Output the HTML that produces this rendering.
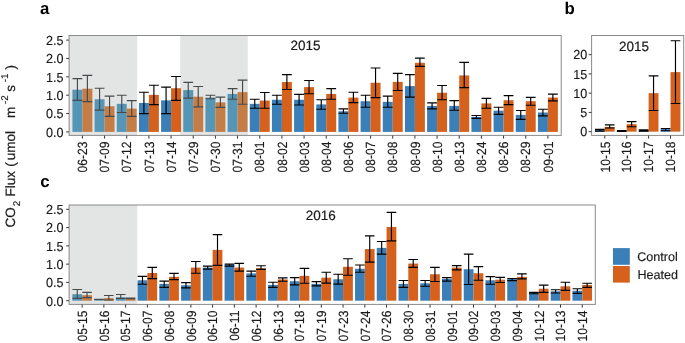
<!DOCTYPE html>
<html><head><meta charset="utf-8"><title>CO2 flux</title>
<style>
html,body{margin:0;padding:0;background:#fff;}
svg{display:block;will-change:transform;}
text{font-family:"Liberation Sans",sans-serif;fill:#1a1a1a;text-rendering:geometricPrecision;}
.t12{font-size:12.6px;stroke:#1a1a1a;stroke-width:.15px;}
.t13{font-size:13.5px;stroke:#1a1a1a;stroke-width:.2px;}
.t9{font-size:9.8px;stroke:#1a1a1a;stroke-width:.15px;}
.tb{font-size:16.8px;font-weight:bold;fill:#000;}
</style></head><body>
<svg width="685" height="343" viewBox="0 0 685 343">
<rect width="685" height="343" fill="#fff"/>
<rect x="69.1" y="35.5" width="492.1" height="99.9" fill="#fff"/>
<rect x="69.1" y="35.5" width="68.15" height="99.9" fill="#e3e5e4"/>
<rect x="180.2" y="35.5" width="67.6" height="99.9" fill="#e3e5e4"/>
<rect x="72.42" y="89.7" width="9.98" height="42.2" fill="#5595b6"/>
<rect x="82.4" y="88.71" width="9.98" height="43.19" fill="#c57d46"/>
<path d="M72.52 78.68H82.3M77.41 78.68V100.36M72.52 100.36H82.3" stroke="#454a4d" stroke-width="1.15" fill="none"/>
<path d="M82.5 75.37H92.27M87.39 75.37V101.61M82.5 101.61H92.27" stroke="#454a4d" stroke-width="1.15" fill="none"/>
<rect x="94.59" y="99.26" width="9.98" height="32.64" fill="#5595b6"/>
<rect x="104.57" y="106.24" width="9.98" height="25.66" fill="#c57d46"/>
<path d="M94.69 88.23H104.47M99.58 88.23V110.06M94.69 110.06H104.47" stroke="#454a4d" stroke-width="1.15" fill="none"/>
<path d="M104.67 96.17H114.44M109.55 96.17V116.31M104.67 116.31H114.44" stroke="#454a4d" stroke-width="1.15" fill="none"/>
<rect x="116.76" y="103.82" width="9.98" height="28.08" fill="#5595b6"/>
<rect x="126.73" y="108.63" width="9.98" height="23.27" fill="#c57d46"/>
<path d="M116.86 95.22H126.63M121.75 95.22V112.49M116.86 112.49H126.63" stroke="#454a4d" stroke-width="1.15" fill="none"/>
<path d="M126.83 100.58H136.61M131.72 100.58V116.31M126.83 116.31H136.61" stroke="#454a4d" stroke-width="1.15" fill="none"/>
<rect x="138.92" y="102.93" width="9.98" height="28.97" fill="#3b7fb8"/>
<rect x="148.9" y="94.85" width="9.98" height="37.05" fill="#d5611c"/>
<path d="M139.02 92.28H148.8M143.91 92.28V113.59M139.02 113.59H148.8" stroke="#000" stroke-width="1.15" fill="none"/>
<path d="M149 85.29H158.77M153.89 85.29V104.63M149 104.63H158.77" stroke="#000" stroke-width="1.15" fill="none"/>
<rect x="161.09" y="100.36" width="9.98" height="31.54" fill="#3b7fb8"/>
<rect x="171.07" y="88.23" width="9.98" height="43.67" fill="#d5611c"/>
<path d="M161.19 87.13H170.97M166.08 87.13V113.59M161.19 113.59H170.97" stroke="#000" stroke-width="1.15" fill="none"/>
<path d="M171.17 76.47H180.94M176.05 76.47V100.36M171.17 100.36H180.94" stroke="#000" stroke-width="1.15" fill="none"/>
<rect x="183.26" y="90.07" width="9.98" height="41.83" fill="#5595b6"/>
<rect x="193.23" y="96.69" width="9.98" height="35.21" fill="#c57d46"/>
<path d="M183.36 82.35H193.13M188.25 82.35V98.16M183.36 98.16H193.13" stroke="#454a4d" stroke-width="1.15" fill="none"/>
<path d="M193.33 86.51H203.11M198.22 86.51V106.83M193.33 106.83H203.11" stroke="#454a4d" stroke-width="1.15" fill="none"/>
<rect x="205.42" y="97.57" width="9.98" height="34.33" fill="#5595b6"/>
<rect x="215.4" y="102.38" width="9.98" height="29.52" fill="#c57d46"/>
<path d="M205.52 95.22H215.3M210.41 95.22V98.78M205.52 98.78H215.3" stroke="#454a4d" stroke-width="1.15" fill="none"/>
<path d="M215.5 97.06H225.27M220.39 97.06V107.34M215.5 107.34H225.27" stroke="#454a4d" stroke-width="1.15" fill="none"/>
<rect x="227.59" y="93.93" width="9.98" height="37.97" fill="#5595b6"/>
<rect x="237.57" y="92.13" width="9.98" height="39.77" fill="#c57d46"/>
<path d="M227.69 88.6H237.47M232.58 88.6V99.26M227.69 99.26H237.47" stroke="#454a4d" stroke-width="1.15" fill="none"/>
<path d="M237.67 80.15H247.44M242.55 80.15V104.22M237.67 104.22H247.44" stroke="#454a4d" stroke-width="1.15" fill="none"/>
<rect x="249.76" y="103.82" width="9.98" height="28.08" fill="#3b7fb8"/>
<rect x="259.73" y="100.58" width="9.98" height="31.32" fill="#d5611c"/>
<path d="M249.86 99.26H259.63M254.75 99.26V108.23M249.86 108.23H259.63" stroke="#000" stroke-width="1.15" fill="none"/>
<path d="M259.83 92.53H269.61M264.72 92.53V108.23M259.83 108.23H269.61" stroke="#000" stroke-width="1.15" fill="none"/>
<rect x="271.92" y="99.77" width="9.98" height="32.13" fill="#3b7fb8"/>
<rect x="281.9" y="82.06" width="9.98" height="49.84" fill="#d5611c"/>
<path d="M272.02 95.22H281.8M276.91 95.22V104.22M272.02 104.22H281.8" stroke="#000" stroke-width="1.15" fill="none"/>
<path d="M282 74.64H291.77M286.89 74.64V89.52M282 89.52H291.77" stroke="#000" stroke-width="1.15" fill="none"/>
<rect x="294.09" y="99.77" width="9.98" height="32.13" fill="#3b7fb8"/>
<rect x="304.07" y="87.13" width="9.98" height="44.77" fill="#d5611c"/>
<path d="M294.19 94.34H303.97M299.08 94.34V105.03M294.19 105.03H303.97" stroke="#000" stroke-width="1.15" fill="none"/>
<path d="M304.17 80.52H313.94M309.05 80.52V93.75M304.17 93.75H313.94" stroke="#000" stroke-width="1.15" fill="none"/>
<rect x="316.26" y="104.41" width="9.98" height="27.5" fill="#3b7fb8"/>
<rect x="326.23" y="93.93" width="9.98" height="37.97" fill="#d5611c"/>
<path d="M316.36 99.77H326.13M321.25 99.77V109.26M316.36 109.26H326.13" stroke="#000" stroke-width="1.15" fill="none"/>
<path d="M326.33 88.6H336.11M331.22 88.6V99.26M326.33 99.26H336.11" stroke="#000" stroke-width="1.15" fill="none"/>
<rect x="338.42" y="111.28" width="9.98" height="20.62" fill="#3b7fb8"/>
<rect x="348.4" y="97.57" width="9.98" height="34.33" fill="#d5611c"/>
<path d="M338.52 108.81H348.3M343.41 108.81V113.22M338.52 113.22H348.3" stroke="#000" stroke-width="1.15" fill="none"/>
<path d="M348.5 92.28H358.27M353.39 92.28V102.57M348.5 102.57H358.27" stroke="#000" stroke-width="1.15" fill="none"/>
<rect x="360.59" y="101.21" width="9.98" height="30.69" fill="#3b7fb8"/>
<rect x="370.57" y="82.72" width="9.98" height="49.18" fill="#d5611c"/>
<path d="M360.69 95.22H370.47M365.58 95.22V107.23M360.69 107.23H370.47" stroke="#000" stroke-width="1.15" fill="none"/>
<path d="M370.67 68.02H380.44M375.55 68.02V97.57M370.67 97.57H380.44" stroke="#000" stroke-width="1.15" fill="none"/>
<rect x="382.76" y="101.83" width="9.98" height="30.07" fill="#3b7fb8"/>
<rect x="392.73" y="81.88" width="9.98" height="50.02" fill="#d5611c"/>
<path d="M382.86 96.17H392.63M387.75 96.17V107.23M382.86 107.23H392.63" stroke="#000" stroke-width="1.15" fill="none"/>
<path d="M392.83 73.31H402.61M397.72 73.31V90.51M392.83 90.51H402.61" stroke="#000" stroke-width="1.15" fill="none"/>
<rect x="404.92" y="86.1" width="9.98" height="45.8" fill="#3b7fb8"/>
<rect x="414.9" y="62.77" width="9.98" height="69.13" fill="#d5611c"/>
<path d="M405.02 74.64H414.8M409.91 74.64V97.17M405.02 97.17H414.8" stroke="#000" stroke-width="1.15" fill="none"/>
<path d="M415 58.1H424.77M419.89 58.1V66.41M415 66.41H424.77" stroke="#000" stroke-width="1.15" fill="none"/>
<rect x="427.09" y="105.88" width="9.98" height="26.03" fill="#3b7fb8"/>
<rect x="437.07" y="92.72" width="9.98" height="39.18" fill="#d5611c"/>
<path d="M427.19 102.93H436.97M432.08 102.93V108.81M427.19 108.81H436.97" stroke="#000" stroke-width="1.15" fill="none"/>
<path d="M437.17 85.48H446.94M442.05 85.48V99.77M437.17 99.77H446.94" stroke="#000" stroke-width="1.15" fill="none"/>
<rect x="449.26" y="105.88" width="9.98" height="26.03" fill="#3b7fb8"/>
<rect x="459.23" y="75.41" width="9.98" height="56.49" fill="#d5611c"/>
<path d="M449.36 100.58H459.13M454.25 100.58V110.28M449.36 110.28H459.13" stroke="#000" stroke-width="1.15" fill="none"/>
<path d="M459.33 62.33H469.11M464.22 62.33V87.68M459.33 87.68H469.11" stroke="#000" stroke-width="1.15" fill="none"/>
<rect x="471.42" y="116.9" width="9.98" height="15" fill="#3b7fb8"/>
<rect x="481.4" y="103.41" width="9.98" height="28.49" fill="#d5611c"/>
<path d="M471.52 115.5H481.3M476.41 115.5V118.37M471.52 118.37H481.3" stroke="#000" stroke-width="1.15" fill="none"/>
<path d="M481.5 98.38H491.27M486.39 98.38V108.23M481.5 108.23H491.27" stroke="#000" stroke-width="1.15" fill="none"/>
<rect x="493.59" y="110.65" width="9.98" height="21.25" fill="#3b7fb8"/>
<rect x="503.57" y="100.18" width="9.98" height="31.72" fill="#d5611c"/>
<path d="M493.69 107.23H503.47M498.58 107.23V114.33M493.69 114.33H503.47" stroke="#000" stroke-width="1.15" fill="none"/>
<path d="M503.67 95.58H513.44M508.55 95.58V104.63M503.67 104.63H513.44" stroke="#000" stroke-width="1.15" fill="none"/>
<rect x="515.76" y="114.88" width="9.98" height="17.02" fill="#3b7fb8"/>
<rect x="525.73" y="101.21" width="9.98" height="30.69" fill="#d5611c"/>
<path d="M515.86 110.47H525.63M520.75 110.47V119.33M515.86 119.33H525.63" stroke="#000" stroke-width="1.15" fill="none"/>
<path d="M525.83 97.42H535.61M530.72 97.42V105.21M525.83 105.21H535.61" stroke="#000" stroke-width="1.15" fill="none"/>
<rect x="537.92" y="112.49" width="9.98" height="19.41" fill="#3b7fb8"/>
<rect x="547.9" y="97.57" width="9.98" height="34.33" fill="#d5611c"/>
<path d="M538.02 109.26H547.8M542.91 109.26V115.91M538.02 115.91H547.8" stroke="#000" stroke-width="1.15" fill="none"/>
<path d="M548 94.11H557.77M552.89 94.11V100.8M548 100.8H557.77" stroke="#000" stroke-width="1.15" fill="none"/>
<rect x="69.1" y="35.5" width="492.1" height="99.9" fill="none" stroke="#8a8a8a" stroke-width="1"/>
<path d="M66.2 131.9H68.9" stroke="#333" stroke-width="1"/>
<text transform="translate(63.6 136.7) scale(1 1.04)" text-anchor="end" class="t12">0.0</text>
<path d="M66.2 113.54H68.9" stroke="#333" stroke-width="1"/>
<text transform="translate(63.6 118.34) scale(1 1.04)" text-anchor="end" class="t12">0.5</text>
<path d="M66.2 95.18H68.9" stroke="#333" stroke-width="1"/>
<text transform="translate(63.6 99.98) scale(1 1.04)" text-anchor="end" class="t12">1.0</text>
<path d="M66.2 76.82H68.9" stroke="#333" stroke-width="1"/>
<text transform="translate(63.6 81.62) scale(1 1.04)" text-anchor="end" class="t12">1.5</text>
<path d="M66.2 58.46H68.9" stroke="#333" stroke-width="1"/>
<text transform="translate(63.6 63.26) scale(1 1.04)" text-anchor="end" class="t12">2.0</text>
<path d="M66.2 40.1H68.9" stroke="#333" stroke-width="1"/>
<text transform="translate(63.6 44.9) scale(1 1.04)" text-anchor="end" class="t12">2.5</text>
<path d="M82.4 135.6V138.6" stroke="#333" stroke-width="1"/>
<text transform="translate(87.15 141.6) rotate(-90) scale(.96 1.06)" text-anchor="end" class="t12">06-23</text>
<path d="M104.57 135.6V138.6" stroke="#333" stroke-width="1"/>
<text transform="translate(109.32 141.6) rotate(-90) scale(.96 1.06)" text-anchor="end" class="t12">07-09</text>
<path d="M126.73 135.6V138.6" stroke="#333" stroke-width="1"/>
<text transform="translate(131.48 141.6) rotate(-90) scale(.96 1.06)" text-anchor="end" class="t12">07-12</text>
<path d="M148.9 135.6V138.6" stroke="#333" stroke-width="1"/>
<text transform="translate(153.65 141.6) rotate(-90) scale(.96 1.06)" text-anchor="end" class="t12">07-13</text>
<path d="M171.07 135.6V138.6" stroke="#333" stroke-width="1"/>
<text transform="translate(175.82 141.6) rotate(-90) scale(.96 1.06)" text-anchor="end" class="t12">07-14</text>
<path d="M193.23 135.6V138.6" stroke="#333" stroke-width="1"/>
<text transform="translate(197.98 141.6) rotate(-90) scale(.96 1.06)" text-anchor="end" class="t12">07-29</text>
<path d="M215.4 135.6V138.6" stroke="#333" stroke-width="1"/>
<text transform="translate(220.15 141.6) rotate(-90) scale(.96 1.06)" text-anchor="end" class="t12">07-30</text>
<path d="M237.57 135.6V138.6" stroke="#333" stroke-width="1"/>
<text transform="translate(242.32 141.6) rotate(-90) scale(.96 1.06)" text-anchor="end" class="t12">07-31</text>
<path d="M259.73 135.6V138.6" stroke="#333" stroke-width="1"/>
<text transform="translate(264.48 141.6) rotate(-90) scale(.96 1.06)" text-anchor="end" class="t12">08-01</text>
<path d="M281.9 135.6V138.6" stroke="#333" stroke-width="1"/>
<text transform="translate(286.65 141.6) rotate(-90) scale(.96 1.06)" text-anchor="end" class="t12">08-02</text>
<path d="M304.07 135.6V138.6" stroke="#333" stroke-width="1"/>
<text transform="translate(308.82 141.6) rotate(-90) scale(.96 1.06)" text-anchor="end" class="t12">08-03</text>
<path d="M326.23 135.6V138.6" stroke="#333" stroke-width="1"/>
<text transform="translate(330.98 141.6) rotate(-90) scale(.96 1.06)" text-anchor="end" class="t12">08-04</text>
<path d="M348.4 135.6V138.6" stroke="#333" stroke-width="1"/>
<text transform="translate(353.15 141.6) rotate(-90) scale(.96 1.06)" text-anchor="end" class="t12">08-06</text>
<path d="M370.57 135.6V138.6" stroke="#333" stroke-width="1"/>
<text transform="translate(375.32 141.6) rotate(-90) scale(.96 1.06)" text-anchor="end" class="t12">08-07</text>
<path d="M392.73 135.6V138.6" stroke="#333" stroke-width="1"/>
<text transform="translate(397.48 141.6) rotate(-90) scale(.96 1.06)" text-anchor="end" class="t12">08-08</text>
<path d="M414.9 135.6V138.6" stroke="#333" stroke-width="1"/>
<text transform="translate(419.65 141.6) rotate(-90) scale(.96 1.06)" text-anchor="end" class="t12">08-09</text>
<path d="M437.07 135.6V138.6" stroke="#333" stroke-width="1"/>
<text transform="translate(441.82 141.6) rotate(-90) scale(.96 1.06)" text-anchor="end" class="t12">08-10</text>
<path d="M459.23 135.6V138.6" stroke="#333" stroke-width="1"/>
<text transform="translate(463.98 141.6) rotate(-90) scale(.96 1.06)" text-anchor="end" class="t12">08-13</text>
<path d="M481.4 135.6V138.6" stroke="#333" stroke-width="1"/>
<text transform="translate(486.15 141.6) rotate(-90) scale(.96 1.06)" text-anchor="end" class="t12">08-24</text>
<path d="M503.57 135.6V138.6" stroke="#333" stroke-width="1"/>
<text transform="translate(508.32 141.6) rotate(-90) scale(.96 1.06)" text-anchor="end" class="t12">08-26</text>
<path d="M525.73 135.6V138.6" stroke="#333" stroke-width="1"/>
<text transform="translate(530.48 141.6) rotate(-90) scale(.96 1.06)" text-anchor="end" class="t12">08-29</text>
<path d="M547.9 135.6V138.6" stroke="#333" stroke-width="1"/>
<text transform="translate(552.65 141.6) rotate(-90) scale(.96 1.06)" text-anchor="end" class="t12">09-01</text>
<text x="305.4" y="50.4" text-anchor="middle" class="t13">2015</text>
<rect x="591.6" y="35.5" width="92.1" height="99.9" fill="#fff"/>
<rect x="594.89" y="129.72" width="9.87" height="1.93" fill="#3b7fb8"/>
<rect x="604.76" y="126.91" width="9.87" height="4.74" fill="#d5611c"/>
<path d="M594.99 129.38H604.66M599.82 129.38V131.13M594.99 131.13H604.66" stroke="#000" stroke-width="1.15" fill="none"/>
<path d="M604.86 124.84H614.52M609.69 124.84V127.97M604.86 127.97H614.52" stroke="#000" stroke-width="1.15" fill="none"/>
<rect x="616.82" y="130.96" width="9.87" height="0.69" fill="#3b7fb8"/>
<rect x="626.69" y="124.12" width="9.87" height="7.53" fill="#d5611c"/>
<path d="M616.92 130.61H626.59M621.75 130.61V131.3M616.92 131.3H626.59" stroke="#000" stroke-width="1.15" fill="none"/>
<path d="M626.79 121.68H636.45M631.62 121.68V126.76M626.79 126.76H636.45" stroke="#000" stroke-width="1.15" fill="none"/>
<rect x="638.75" y="130.26" width="9.87" height="1.39" fill="#3b7fb8"/>
<rect x="648.61" y="93.15" width="9.87" height="38.5" fill="#d5611c"/>
<path d="M638.85 129.92H648.51M643.68 129.92V131.11M638.85 131.11H648.51" stroke="#000" stroke-width="1.15" fill="none"/>
<path d="M648.71 75.83H658.38M653.55 75.83V110.48M648.71 110.48H658.38" stroke="#000" stroke-width="1.15" fill="none"/>
<rect x="660.68" y="129.03" width="9.87" height="2.62" fill="#3b7fb8"/>
<rect x="670.54" y="72.13" width="9.87" height="59.52" fill="#d5611c"/>
<path d="M660.78 128.49H670.44M665.61 128.49V130.76M660.78 130.76H670.44" stroke="#000" stroke-width="1.15" fill="none"/>
<path d="M670.64 40.79H680.31M675.48 40.79V103.47M670.64 103.47H680.31" stroke="#000" stroke-width="1.15" fill="none"/>
<rect x="591.6" y="35.5" width="92.1" height="99.9" fill="none" stroke="#8a8a8a" stroke-width="1"/>
<path d="M588.7 131.65H591.4" stroke="#333" stroke-width="1"/>
<text transform="translate(587.3 136.45) scale(1 1.04)" text-anchor="end" class="t12">0</text>
<path d="M588.7 112.4H591.4" stroke="#333" stroke-width="1"/>
<text transform="translate(587.3 117.2) scale(1 1.04)" text-anchor="end" class="t12">5</text>
<path d="M588.7 93.15H591.4" stroke="#333" stroke-width="1"/>
<text transform="translate(587.3 97.95) scale(1 1.04)" text-anchor="end" class="t12">10</text>
<path d="M588.7 73.9H591.4" stroke="#333" stroke-width="1"/>
<text transform="translate(587.3 78.7) scale(1 1.04)" text-anchor="end" class="t12">15</text>
<path d="M588.7 54.65H591.4" stroke="#333" stroke-width="1"/>
<text transform="translate(587.3 59.45) scale(1 1.04)" text-anchor="end" class="t12">20</text>
<path d="M604.76 135.6V138.6" stroke="#333" stroke-width="1"/>
<text transform="translate(609.51 141.6) rotate(-90) scale(.96 1.06)" text-anchor="end" class="t12">10-15</text>
<path d="M626.69 135.6V138.6" stroke="#333" stroke-width="1"/>
<text transform="translate(631.44 141.6) rotate(-90) scale(.96 1.06)" text-anchor="end" class="t12">10-16</text>
<path d="M648.61 135.6V138.6" stroke="#333" stroke-width="1"/>
<text transform="translate(653.36 141.6) rotate(-90) scale(.96 1.06)" text-anchor="end" class="t12">10-17</text>
<path d="M670.54 135.6V138.6" stroke="#333" stroke-width="1"/>
<text transform="translate(675.29 141.6) rotate(-90) scale(.96 1.06)" text-anchor="end" class="t12">10-18</text>
<text x="634" y="50.5" text-anchor="middle" class="t13">2015</text>
<rect x="69.1" y="205" width="526.2" height="99.4" fill="#fff"/>
<rect x="69.1" y="205" width="68.3" height="99.4" fill="#e3e5e4"/>
<rect x="72.36" y="294.18" width="9.78" height="6.52" fill="#5595b6"/>
<rect x="82.15" y="295.2" width="9.78" height="5.5" fill="#c57d46"/>
<path d="M72.46 289.49H82.05M77.25 289.49V298.41M72.46 298.41H82.05" stroke="#454a4d" stroke-width="1.15" fill="none"/>
<path d="M82.25 292.4H91.83M87.04 292.4V297.68M82.25 297.68H91.83" stroke="#454a4d" stroke-width="1.15" fill="none"/>
<rect x="94.11" y="299.28" width="9.78" height="1.42" fill="#5595b6"/>
<rect x="103.89" y="298.12" width="9.78" height="2.58" fill="#c57d46"/>
<path d="M94.21 299.21H103.79M99 299.21V299.35M94.21 299.35H103.79" stroke="#454a4d" stroke-width="1.15" fill="none"/>
<path d="M103.99 295.5H113.57M108.78 295.5V300.01M103.99 300.01H113.57" stroke="#454a4d" stroke-width="1.15" fill="none"/>
<rect x="115.85" y="297.39" width="9.78" height="3.31" fill="#5595b6"/>
<rect x="125.63" y="298.41" width="9.78" height="2.29" fill="#c57d46"/>
<path d="M115.95 294.48H125.53M120.74 294.48V298.41M115.95 298.41H125.53" stroke="#454a4d" stroke-width="1.15" fill="none"/>
<path d="M125.73 298.19H135.32M130.53 298.19V298.63M125.73 298.63H135.32" stroke="#454a4d" stroke-width="1.15" fill="none"/>
<rect x="137.59" y="280.28" width="9.78" height="20.42" fill="#3b7fb8"/>
<rect x="147.38" y="273" width="9.78" height="27.7" fill="#d5611c"/>
<path d="M137.69 276.42H147.28M142.49 276.42V284.28M137.69 284.28H147.28" stroke="#000" stroke-width="1.15" fill="none"/>
<path d="M147.48 267.39H157.06M152.27 267.39V278.64M147.48 278.64H157.06" stroke="#000" stroke-width="1.15" fill="none"/>
<rect x="159.34" y="283.88" width="9.78" height="16.82" fill="#3b7fb8"/>
<rect x="169.12" y="276.82" width="9.78" height="23.88" fill="#d5611c"/>
<path d="M159.44 281.08H169.02M164.23 281.08V287.31M159.44 287.31H169.02" stroke="#000" stroke-width="1.15" fill="none"/>
<path d="M169.22 273.4H178.81M174.01 273.4V279.66M169.22 279.66H178.81" stroke="#000" stroke-width="1.15" fill="none"/>
<rect x="181.08" y="285.3" width="9.78" height="15.4" fill="#3b7fb8"/>
<rect x="190.87" y="267.58" width="9.78" height="33.12" fill="#d5611c"/>
<path d="M181.18 282.68H190.77M185.97 282.68V287.92M181.18 287.92H190.77" stroke="#000" stroke-width="1.15" fill="none"/>
<path d="M190.97 261.53H200.55M195.76 261.53V273.22M190.97 273.22H200.55" stroke="#000" stroke-width="1.15" fill="none"/>
<rect x="202.82" y="267.58" width="9.78" height="33.12" fill="#3b7fb8"/>
<rect x="212.61" y="249.89" width="9.78" height="50.81" fill="#d5611c"/>
<path d="M202.92 266.18H212.51M207.72 266.18V269.18M202.92 269.18H212.51" stroke="#000" stroke-width="1.15" fill="none"/>
<path d="M212.71 234.6H222.29M217.5 234.6V265.36M212.71 265.36H222.29" stroke="#000" stroke-width="1.15" fill="none"/>
<rect x="224.57" y="264.56" width="9.78" height="36.14" fill="#3b7fb8"/>
<rect x="234.35" y="267.58" width="9.78" height="33.12" fill="#d5611c"/>
<path d="M224.67 264.15H234.25M229.46 264.15V266.18M224.67 266.18H234.25" stroke="#000" stroke-width="1.15" fill="none"/>
<path d="M234.45 263.35H244.04M239.25 263.35V271.18M234.45 271.18H244.04" stroke="#000" stroke-width="1.15" fill="none"/>
<rect x="246.31" y="273.42" width="9.78" height="27.28" fill="#3b7fb8"/>
<rect x="256.1" y="268.2" width="9.78" height="32.5" fill="#d5611c"/>
<path d="M246.41 271.18H256M251.2 271.18V276.24M246.41 276.24H256" stroke="#000" stroke-width="1.15" fill="none"/>
<path d="M256.2 265.77H265.78M260.99 265.77V269.4M256.2 269.4H265.78" stroke="#000" stroke-width="1.15" fill="none"/>
<rect x="268.06" y="284.9" width="9.78" height="15.8" fill="#3b7fb8"/>
<rect x="277.84" y="279.44" width="9.78" height="21.26" fill="#d5611c"/>
<path d="M268.16 282.28H277.74M272.95 282.28V287.31M268.16 287.31H277.74" stroke="#000" stroke-width="1.15" fill="none"/>
<path d="M277.94 277.84H287.53M282.73 277.84V281.26M277.94 281.26H287.53" stroke="#000" stroke-width="1.15" fill="none"/>
<rect x="289.8" y="281.26" width="9.78" height="19.44" fill="#3b7fb8"/>
<rect x="299.58" y="275.84" width="9.78" height="24.86" fill="#d5611c"/>
<path d="M289.9 277.66H299.48M294.69 277.66V284.9M289.9 284.9H299.48" stroke="#000" stroke-width="1.15" fill="none"/>
<path d="M299.68 268.38H309.27M304.48 268.38V283.26M299.68 283.26H309.27" stroke="#000" stroke-width="1.15" fill="none"/>
<rect x="311.54" y="283.88" width="9.78" height="16.82" fill="#3b7fb8"/>
<rect x="321.33" y="277.66" width="9.78" height="23.04" fill="#d5611c"/>
<path d="M311.64 281.66H321.23M316.44 281.66V285.89M311.64 285.89H321.23" stroke="#000" stroke-width="1.15" fill="none"/>
<path d="M321.43 272.2H331.01M326.22 272.2V283.08M321.43 283.08H331.01" stroke="#000" stroke-width="1.15" fill="none"/>
<rect x="333.29" y="279.26" width="9.78" height="21.44" fill="#3b7fb8"/>
<rect x="343.07" y="266.78" width="9.78" height="33.92" fill="#d5611c"/>
<path d="M333.39 274.24H342.97M338.18 274.24V284.08M333.39 284.08H342.97" stroke="#000" stroke-width="1.15" fill="none"/>
<path d="M343.17 258.73H352.76M347.96 258.73V275.22M343.17 275.22H352.76" stroke="#000" stroke-width="1.15" fill="none"/>
<rect x="355.03" y="268.79" width="9.78" height="31.91" fill="#3b7fb8"/>
<rect x="364.82" y="249.09" width="9.78" height="51.61" fill="#d5611c"/>
<path d="M355.13 264.99H364.72M359.92 264.99V272.2M355.13 272.2H364.72" stroke="#000" stroke-width="1.15" fill="none"/>
<path d="M364.92 235.8H374.5M369.71 235.8V262.15M364.92 262.15H374.5" stroke="#000" stroke-width="1.15" fill="none"/>
<rect x="376.77" y="247.88" width="9.78" height="52.82" fill="#3b7fb8"/>
<rect x="386.56" y="226.92" width="9.78" height="73.78" fill="#d5611c"/>
<path d="M376.87 241.51H386.46M381.67 241.51V254.11M376.87 254.11H386.46" stroke="#000" stroke-width="1.15" fill="none"/>
<path d="M386.66 212.32H396.24M391.45 212.32V240.9M386.66 240.9H396.24" stroke="#000" stroke-width="1.15" fill="none"/>
<rect x="398.52" y="283.88" width="9.78" height="16.82" fill="#3b7fb8"/>
<rect x="408.3" y="263.57" width="9.78" height="37.13" fill="#d5611c"/>
<path d="M398.62 280.46H408.2M403.41 280.46V287.31M398.62 287.31H408.2" stroke="#000" stroke-width="1.15" fill="none"/>
<path d="M408.4 259.53H417.99M413.2 259.53V267.39M408.4 267.39H417.99" stroke="#000" stroke-width="1.15" fill="none"/>
<rect x="420.26" y="283.28" width="9.78" height="17.42" fill="#3b7fb8"/>
<rect x="430.05" y="274.24" width="9.78" height="26.46" fill="#d5611c"/>
<path d="M420.36 280.46H429.95M425.15 280.46V286.29M420.36 286.29H429.95" stroke="#000" stroke-width="1.15" fill="none"/>
<path d="M430.15 267.39H439.73M434.94 267.39V281.48M430.15 281.48H439.73" stroke="#000" stroke-width="1.15" fill="none"/>
<rect x="442.01" y="278.86" width="9.78" height="21.84" fill="#3b7fb8"/>
<rect x="451.79" y="267.58" width="9.78" height="33.12" fill="#d5611c"/>
<path d="M442.11 277.66H451.69M446.9 277.66V281.08M442.11 281.08H451.69" stroke="#000" stroke-width="1.15" fill="none"/>
<path d="M451.89 265.57H461.48M456.68 265.57V269.8M451.89 269.8H461.48" stroke="#000" stroke-width="1.15" fill="none"/>
<rect x="463.75" y="269.19" width="9.78" height="31.51" fill="#3b7fb8"/>
<rect x="473.53" y="273.22" width="9.78" height="27.48" fill="#d5611c"/>
<path d="M463.85 254.11H473.43M468.64 254.11V284.48M463.85 284.48H473.43" stroke="#000" stroke-width="1.15" fill="none"/>
<path d="M473.63 266.59H483.22M478.43 266.59V280.28M473.63 280.28H483.22" stroke="#000" stroke-width="1.15" fill="none"/>
<rect x="485.49" y="280.28" width="9.78" height="20.42" fill="#3b7fb8"/>
<rect x="495.28" y="279.66" width="9.78" height="21.04" fill="#d5611c"/>
<path d="M485.59 276.64H495.18M490.39 276.64V284.28M485.59 284.28H495.18" stroke="#000" stroke-width="1.15" fill="none"/>
<path d="M495.38 277.44H504.96M500.17 277.44V282.46M495.38 282.46H504.96" stroke="#000" stroke-width="1.15" fill="none"/>
<rect x="507.24" y="278.86" width="9.78" height="21.84" fill="#3b7fb8"/>
<rect x="517.02" y="276.84" width="9.78" height="23.86" fill="#d5611c"/>
<path d="M507.34 278.46H516.92M512.13 278.46V280.66M507.34 280.66H516.92" stroke="#000" stroke-width="1.15" fill="none"/>
<path d="M517.12 273.82H526.71M521.91 273.82V278.86M517.12 278.86H526.71" stroke="#000" stroke-width="1.15" fill="none"/>
<rect x="528.98" y="292.73" width="9.78" height="7.97" fill="#3b7fb8"/>
<rect x="538.77" y="288.72" width="9.78" height="11.98" fill="#d5611c"/>
<path d="M529.08 292.33H538.67M533.87 292.33V293.75M529.08 293.75H538.67" stroke="#000" stroke-width="1.15" fill="none"/>
<path d="M538.87 285.08H548.45M543.66 285.08V292.33M538.87 292.33H548.45" stroke="#000" stroke-width="1.15" fill="none"/>
<rect x="550.73" y="291.33" width="9.78" height="9.37" fill="#3b7fb8"/>
<rect x="560.51" y="286.29" width="9.78" height="14.41" fill="#d5611c"/>
<path d="M550.83 289.74H560.41M555.62 289.74V293.02M550.83 293.02H560.41" stroke="#000" stroke-width="1.15" fill="none"/>
<path d="M560.61 282.28H570.19M565.4 282.28V290.33M560.61 290.33H570.19" stroke="#000" stroke-width="1.15" fill="none"/>
<rect x="572.47" y="290.73" width="9.78" height="9.97" fill="#3b7fb8"/>
<rect x="582.25" y="284.9" width="9.78" height="15.8" fill="#d5611c"/>
<path d="M572.57 288.72H582.15M577.36 288.72V293.35M572.57 293.35H582.15" stroke="#000" stroke-width="1.15" fill="none"/>
<path d="M582.35 283.28H591.94M587.15 283.28V287.31M582.35 287.31H591.94" stroke="#000" stroke-width="1.15" fill="none"/>
<rect x="69.1" y="205" width="526.2" height="99.4" fill="none" stroke="#8a8a8a" stroke-width="1"/>
<path d="M66.2 300.7H68.9" stroke="#333" stroke-width="1"/>
<text transform="translate(63.6 305.5) scale(1 1.04)" text-anchor="end" class="t12">0.0</text>
<path d="M66.2 282.42H68.9" stroke="#333" stroke-width="1"/>
<text transform="translate(63.6 287.22) scale(1 1.04)" text-anchor="end" class="t12">0.5</text>
<path d="M66.2 264.14H68.9" stroke="#333" stroke-width="1"/>
<text transform="translate(63.6 268.94) scale(1 1.04)" text-anchor="end" class="t12">1.0</text>
<path d="M66.2 245.86H68.9" stroke="#333" stroke-width="1"/>
<text transform="translate(63.6 250.66) scale(1 1.04)" text-anchor="end" class="t12">1.5</text>
<path d="M66.2 227.58H68.9" stroke="#333" stroke-width="1"/>
<text transform="translate(63.6 232.38) scale(1 1.04)" text-anchor="end" class="t12">2.0</text>
<path d="M66.2 209.3H68.9" stroke="#333" stroke-width="1"/>
<text transform="translate(63.6 214.1) scale(1 1.04)" text-anchor="end" class="t12">2.5</text>
<path d="M82.15 304.6V307.6" stroke="#333" stroke-width="1"/>
<text transform="translate(86.9 310.6) rotate(-90) scale(.96 1.06)" text-anchor="end" class="t12">05-15</text>
<path d="M103.89 304.6V307.6" stroke="#333" stroke-width="1"/>
<text transform="translate(108.64 310.6) rotate(-90) scale(.96 1.06)" text-anchor="end" class="t12">05-16</text>
<path d="M125.63 304.6V307.6" stroke="#333" stroke-width="1"/>
<text transform="translate(130.38 310.6) rotate(-90) scale(.96 1.06)" text-anchor="end" class="t12">05-17</text>
<path d="M147.38 304.6V307.6" stroke="#333" stroke-width="1"/>
<text transform="translate(152.13 310.6) rotate(-90) scale(.96 1.06)" text-anchor="end" class="t12">06-07</text>
<path d="M169.12 304.6V307.6" stroke="#333" stroke-width="1"/>
<text transform="translate(173.87 310.6) rotate(-90) scale(.96 1.06)" text-anchor="end" class="t12">06-08</text>
<path d="M190.87 304.6V307.6" stroke="#333" stroke-width="1"/>
<text transform="translate(195.62 310.6) rotate(-90) scale(.96 1.06)" text-anchor="end" class="t12">06-09</text>
<path d="M212.61 304.6V307.6" stroke="#333" stroke-width="1"/>
<text transform="translate(217.36 310.6) rotate(-90) scale(.96 1.06)" text-anchor="end" class="t12">06-10</text>
<path d="M234.35 304.6V307.6" stroke="#333" stroke-width="1"/>
<text transform="translate(239.1 310.6) rotate(-90) scale(.96 1.06)" text-anchor="end" class="t12">06-11</text>
<path d="M256.1 304.6V307.6" stroke="#333" stroke-width="1"/>
<text transform="translate(260.85 310.6) rotate(-90) scale(.96 1.06)" text-anchor="end" class="t12">06-12</text>
<path d="M277.84 304.6V307.6" stroke="#333" stroke-width="1"/>
<text transform="translate(282.59 310.6) rotate(-90) scale(.96 1.06)" text-anchor="end" class="t12">06-13</text>
<path d="M299.58 304.6V307.6" stroke="#333" stroke-width="1"/>
<text transform="translate(304.33 310.6) rotate(-90) scale(.96 1.06)" text-anchor="end" class="t12">07-18</text>
<path d="M321.33 304.6V307.6" stroke="#333" stroke-width="1"/>
<text transform="translate(326.08 310.6) rotate(-90) scale(.96 1.06)" text-anchor="end" class="t12">07-19</text>
<path d="M343.07 304.6V307.6" stroke="#333" stroke-width="1"/>
<text transform="translate(347.82 310.6) rotate(-90) scale(.96 1.06)" text-anchor="end" class="t12">07-23</text>
<path d="M364.82 304.6V307.6" stroke="#333" stroke-width="1"/>
<text transform="translate(369.57 310.6) rotate(-90) scale(.96 1.06)" text-anchor="end" class="t12">07-24</text>
<path d="M386.56 304.6V307.6" stroke="#333" stroke-width="1"/>
<text transform="translate(391.31 310.6) rotate(-90) scale(.96 1.06)" text-anchor="end" class="t12">07-26</text>
<path d="M408.3 304.6V307.6" stroke="#333" stroke-width="1"/>
<text transform="translate(413.05 310.6) rotate(-90) scale(.96 1.06)" text-anchor="end" class="t12">08-30</text>
<path d="M430.05 304.6V307.6" stroke="#333" stroke-width="1"/>
<text transform="translate(434.8 310.6) rotate(-90) scale(.96 1.06)" text-anchor="end" class="t12">08-31</text>
<path d="M451.79 304.6V307.6" stroke="#333" stroke-width="1"/>
<text transform="translate(456.54 310.6) rotate(-90) scale(.96 1.06)" text-anchor="end" class="t12">09-01</text>
<path d="M473.53 304.6V307.6" stroke="#333" stroke-width="1"/>
<text transform="translate(478.28 310.6) rotate(-90) scale(.96 1.06)" text-anchor="end" class="t12">09-02</text>
<path d="M495.28 304.6V307.6" stroke="#333" stroke-width="1"/>
<text transform="translate(500.03 310.6) rotate(-90) scale(.96 1.06)" text-anchor="end" class="t12">09-03</text>
<path d="M517.02 304.6V307.6" stroke="#333" stroke-width="1"/>
<text transform="translate(521.77 310.6) rotate(-90) scale(.96 1.06)" text-anchor="end" class="t12">09-04</text>
<path d="M538.77 304.6V307.6" stroke="#333" stroke-width="1"/>
<text transform="translate(543.52 310.6) rotate(-90) scale(.96 1.06)" text-anchor="end" class="t12">10-12</text>
<path d="M560.51 304.6V307.6" stroke="#333" stroke-width="1"/>
<text transform="translate(565.26 310.6) rotate(-90) scale(.96 1.06)" text-anchor="end" class="t12">10-13</text>
<path d="M582.25 304.6V307.6" stroke="#333" stroke-width="1"/>
<text transform="translate(587 310.6) rotate(-90) scale(.96 1.06)" text-anchor="end" class="t12">10-14</text>
<text x="320.85" y="219.5" text-anchor="middle" class="t13">2016</text>
<text x="40.1" y="13.7" class="tb">a</text>
<text x="564.6" y="13.5" class="tb">b</text>
<text x="40.3" y="187.2" class="tb">c</text>
<text transform="translate(14.6 227.6) rotate(-90)" class="t13">CO</text>
<text transform="translate(19.6 206.3) rotate(-90)" class="t9">2</text>
<text transform="translate(14.6 196.5) rotate(-90)" class="t13">Flux</text>
<text transform="translate(14.6 166.8) rotate(-90)" class="t13">(</text>
<text transform="translate(14.6 160.3) rotate(-90)" class="t13">umol</text>
<text transform="translate(14.6 118) rotate(-90)" class="t13">m</text>
<text transform="translate(7.9 104) rotate(-90)" class="t9">-2</text>
<text transform="translate(14.6 91.8) rotate(-90)" class="t13">s</text>
<text transform="translate(7.9 82.2) rotate(-90)" class="t9">-1</text>
<text transform="translate(14.6 69.5) rotate(-90)" class="t13">)</text>
<rect x="613" y="248.1" width="16.8" height="16.7" fill="#3b7fb8"/>
<rect x="613" y="266" width="16.8" height="16.6" fill="#d5611c"/>
<text x="637.2" y="261.4" class="t12">Control</text>
<text x="637.4" y="279.1" class="t12">Heated</text>
</svg>
</body></html>
